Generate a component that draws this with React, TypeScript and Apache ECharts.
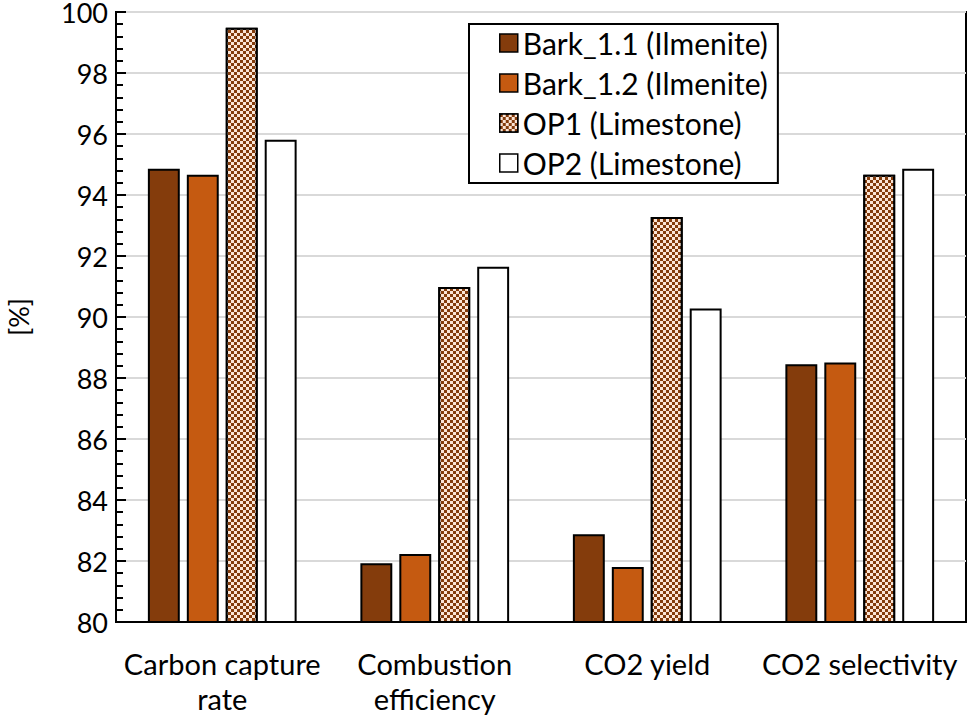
import React, { useEffect, useRef } from "react";
import * as echarts from "echarts";

const categories = ["Carbon capture\nrate", "Combustion\nefficiency", "CO2 yield", "CO2 selectivity"];
const seriesNames = ["Bark_1.1 (Ilmenite)", "Bark_1.2 (Ilmenite)", "OP1 (Limestone)", "OP2 (Limestone)"];
const bark11 = [94.86, 81.93, 82.88, 88.45];
const bark12 = [94.66, 82.23, 81.8, 88.51];
const op1 = [99.48, 90.98, 93.28, 94.66];
const op2 = [95.81, 91.65, 90.28, 94.86];
const yTicks = { min: 80, max: 100, interval: 2 };

const FONT = "Lato";

export default function App() {
  const ref = useRef<HTMLDivElement>(null);
  useEffect(() => {
    if (!ref.current) return;
    const chart = echarts.init(ref.current, undefined, { renderer: "svg" });
    const border = { borderColor: "#000", borderWidth: 2 };
    const checker = {
      symbol: "rect",
      symbolSize: 1,
      color: "#FBE5D6",
      dashArrayX: [[3, 3], [0, 3, 3, 0]],
      dashArrayY: [3, 0],
      rotation: 0,
    };
    const mk = (name: string, data: number[], itemStyle: any) => ({
      name,
      type: "bar",
      data,
      barGap: "22%",
      barCategoryGap: "30%",
      itemStyle: { ...border, ...itemStyle },
    });
    chart.setOption({
      animation: false,
      backgroundColor: "#fff",
      textStyle: { fontFamily: FONT },
      grid: {
        left: 116,
        right: 3,
        top: 12,
        bottom: 95,
        show: true,
        borderColor: "#000",
        borderWidth: 2,
        containLabel: false,
        outerBoundsMode: "none",
      },
      legend: {
        orient: "vertical",
        left: 469,
        top: 24,
        data: seriesNames,
        icon: "rect",
        itemWidth: 18,
        itemHeight: 18,
        itemGap: 10,
        padding: [4, 10, 5, 30],
        borderColor: "#000",
        borderWidth: 2,
        backgroundColor: "#fff",
        textStyle: { fontFamily: FONT, fontSize: 30, color: "#000", lineHeight: 30 },
        itemStyle: { borderColor: "#000", borderWidth: 1.5 },
      },
      xAxis: {
        type: "category",
        data: categories,
        axisLine: { lineStyle: { color: "#000", width: 2 } },
        axisTick: { show: false },
        axisLabel: {
          fontFamily: FONT,
          fontSize: 29,
          color: "#000",
          lineHeight: 35,
          margin: 24,
          interval: 0,
        },
      },
      yAxis: {
        type: "value",
        min: yTicks.min,
        max: yTicks.max,
        interval: yTicks.interval,
        name: "[%]",
        nameLocation: "middle",
        nameRotate: 90,
        nameGap: 84,
        nameTextStyle: { fontFamily: FONT, fontSize: 27, color: "#000" },
        axisLine: { show: true, lineStyle: { color: "#000", width: 2 } },
        axisTick: { show: true, inside: true, length: 10, lineStyle: { color: "#000", width: 2 } },
        minorTick: { show: true, splitNumber: 5, length: 7, lineStyle: { color: "#000", width: 2 } },
        axisLabel: { fontFamily: FONT, fontSize: 27, lineHeight: 22, color: "#000", margin: 8 },
        splitLine: { lineStyle: { color: "#D9D9D9", width: 2 } },
      },
      series: [
        mk(seriesNames[0], bark11, { color: "#843C0C" }),
        mk(seriesNames[1], bark12, { color: "#C55A11" }),
        mk(seriesNames[2], op1, { color: "#843C0C", decal: checker }),
        mk(seriesNames[3], op2, { color: "#FFFFFF" }),
      ],
    });
    return () => chart.dispose();
  }, []);
  return (
    <div
      ref={ref}
      style={{ position: "fixed", left: 0, top: 0, width: 969, height: 717 }}
    />
  );
}
